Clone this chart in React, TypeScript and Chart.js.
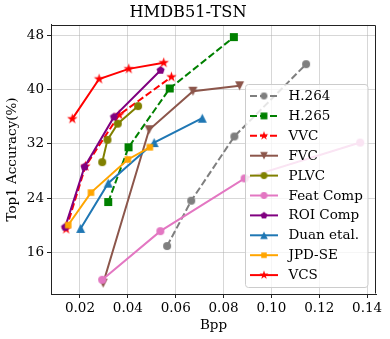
import React, { useEffect, useRef } from 'react';
import { Chart, registerables } from 'chart.js';

Chart.register(...registerables);

const chartTitle = 'HMDB51-TSN';
const xLabel = 'Bpp';
const yLabel = 'Top1 Accuracy(%)';
const xTicks = [0.02, 0.04, 0.06, 0.08, 0.1, 0.12, 0.14];
const yTicks = [16, 24, 32, 40, 48];

const seriesNames = ['H.264', 'H.265', 'VVC', 'FVC', 'PLVC', 'Feat Comp', 'ROI Comp', 'Duan etal.', 'JPD-SE', 'VCS'];

const h264X = [0.0564, 0.0665, 0.0845, 0.1145];
const h264Y = [16.9, 23.6, 33.1, 43.8];
const h265X = [0.0318, 0.0403, 0.0575, 0.0843];
const h265Y = [23.4, 31.5, 40.2, 47.8];
const vvcX = [0.0142, 0.0223, 0.0364, 0.0582];
const vvcY = [19.4, 28.7, 36.3, 41.9];
const fvcX = [0.0297, 0.0489, 0.0672, 0.0867];
const fvcY = [11.4, 34.1, 39.8, 40.6];
const plvcX = [0.0293, 0.0315, 0.0358, 0.0443];
const plvcY = [29.3, 32.6, 35.0, 37.6];
const featX = [0.0293, 0.0536, 0.0888, 0.1371];
const featY = [11.9, 19.1, 26.9, 32.2];
const roiX = [0.0138, 0.0219, 0.0342, 0.0537];
const roiY = [19.7, 28.6, 36.0, 42.9];
const duanX = [0.0203, 0.0318, 0.051, 0.0711];
const duanY = [19.5, 26.2, 32.2, 35.8];
const jpdX = [0.0151, 0.0246, 0.04, 0.0492];
const jpdY = [20.0, 24.8, 29.7, 31.5];
const vcsX = [0.0168, 0.028, 0.0404, 0.055];
const vcsY = [35.7, 41.6, 43.1, 44.0];

const allX = [h264X, h265X, vvcX, fvcX, plvcX, featX, roiX, duanX, jpdX, vcsX];
const allY = [h264Y, h265Y, vvcY, fvcY, plvcY, featY, roiY, duanY, jpdY, vcsY];

const styles = [
  { color: '#7f7f7f', dash: true, marker: 'circle', size: 8 },
  { color: '#008000', dash: true, marker: 'square', size: 8 },
  { color: '#ff0000', dash: true, marker: 'star', size: 11 },
  { color: '#8c564b', dash: false, marker: 'triDown', size: 9 },
  { color: '#808000', dash: false, marker: 'circle', size: 8 },
  { color: '#e377c2', dash: false, marker: 'circle', size: 8 },
  { color: '#800080', dash: false, marker: 'pentagon', size: 8.5 },
  { color: '#1f77b4', dash: false, marker: 'triUp', size: 9 },
  { color: '#ffa500', dash: false, marker: 'square', size: 6.5 },
  { color: '#ff0000', dash: false, marker: 'star', size: 11 },
];

const FONT = '"DejaVu Serif", serif';

function makeMarker(shape: string, color: string, size: number): HTMLCanvasElement {
  const s = Math.ceil(size + 4);
  const c = document.createElement('canvas');
  c.width = s;
  c.height = s;
  const ctx = c.getContext('2d') as CanvasRenderingContext2D;
  ctx.translate(s / 2, s / 2);
  ctx.fillStyle = color;
  ctx.beginPath();
  const r = size / 2;
  if (shape === 'circle') {
    ctx.arc(0, 0, r, 0, Math.PI * 2);
  } else if (shape === 'square') {
    ctx.rect(-r, -r, 2 * r, 2 * r);
  } else if (shape === 'triUp') {
    ctx.moveTo(0, -r);
    ctx.lineTo(r, r);
    ctx.lineTo(-r, r);
    ctx.closePath();
  } else if (shape === 'triDown') {
    ctx.moveTo(0, r);
    ctx.lineTo(r, -r);
    ctx.lineTo(-r, -r);
    ctx.closePath();
  } else if (shape === 'star') {
    const inner = r * 0.381966;
    for (let k = 0; k < 10; k++) {
      const rad = k % 2 === 0 ? r : inner;
      const a = -Math.PI / 2 + (k * Math.PI) / 5;
      const px = rad * Math.cos(a);
      const py = rad * Math.sin(a);
      if (k === 0) ctx.moveTo(px, py);
      else ctx.lineTo(px, py);
    }
    ctx.closePath();
  } else if (shape === 'pentagon') {
    for (let k = 0; k < 5; k++) {
      const a = -Math.PI / 2 + (k * 2 * Math.PI) / 5;
      const px = r * Math.cos(a);
      const py = r * Math.sin(a);
      if (k === 0) ctx.moveTo(px, py);
      else ctx.lineTo(px, py);
    }
    ctx.closePath();
  }
  ctx.fill();
  return c;
}

export default function App() {
  const ref = useRef<HTMLCanvasElement | null>(null);

  useEffect(() => {
    document.body.style.margin = '0';
    const canvas = ref.current;
    if (!canvas) return;

    const markers = styles.map((s) => makeMarker(s.marker, s.color, s.size));
    const legendMarkers = styles.map((s) => makeMarker(s.marker, s.color, s.size * 0.85));
    const dashPattern = [7, 3];

    const datasets = seriesNames.map((name, i) => ({
      label: name,
      data: allX[i].map((x, j) => ({ x, y: allY[i][j] })),
      borderColor: styles[i].color,
      backgroundColor: styles[i].color,
      borderWidth: 2,
      borderDash: styles[i].dash ? dashPattern : [],
      pointStyle: markers[i],
      pointRadius: 4,
      pointHoverRadius: 4,
      showLine: true,
      fill: false,
      tension: 0,
      order: 20 - i,
    }));

    const legendPlugin = {
      id: 'customLegend',
      afterDatasetsDraw(chart: any) {
        const ctx = chart.ctx as CanvasRenderingContext2D;
        ctx.save();
        const x0 = 245.5, y0 = 84.5, w = 122.5, h = 203, rr = 3;
        ctx.beginPath();
        ctx.moveTo(x0 + rr, y0);
        ctx.lineTo(x0 + w - rr, y0);
        ctx.arcTo(x0 + w, y0, x0 + w, y0 + rr, rr);
        ctx.lineTo(x0 + w, y0 + h - rr);
        ctx.arcTo(x0 + w, y0 + h, x0 + w - rr, y0 + h, rr);
        ctx.lineTo(x0 + rr, y0 + h);
        ctx.arcTo(x0, y0 + h, x0, y0 + h - rr, rr);
        ctx.lineTo(x0, y0 + rr);
        ctx.arcTo(x0, y0, x0 + rr, y0, rr);
        ctx.closePath();
        ctx.fillStyle = 'rgba(255,255,255,0.8)';
        ctx.fill();
        ctx.strokeStyle = '#cccccc';
        ctx.lineWidth = 1;
        ctx.stroke();

        chart.data.datasets.forEach((ds: any, i: number) => {
          const cy = 96 + i * 19.9;
          ctx.beginPath();
          ctx.setLineDash(ds.borderDash || []);
          ctx.strokeStyle = ds.borderColor;
          ctx.lineWidth = 2;
          ctx.moveTo(250, cy);
          ctx.lineTo(278, cy);
          ctx.stroke();
          ctx.setLineDash([]);
          const m = legendMarkers[i];
          ctx.drawImage(m, 264 - m.width / 2, cy - m.height / 2);
          ctx.fillStyle = '#000';
          ctx.font = `13.5px ${FONT}`;
          ctx.textAlign = 'left';
          ctx.textBaseline = 'middle';
          ctx.fillText(ds.label, 288.5, cy + 0.5);
        });
        ctx.restore();
      },
      afterDraw(chart: any) {
        const ctx = chart.ctx as CanvasRenderingContext2D;
        const a = chart.chartArea;
        ctx.save();
        ctx.strokeStyle = '#222';
        ctx.lineWidth = 1;
        ctx.beginPath();
        ctx.moveTo(Math.round(a.left) + 0.5, Math.round(a.top) + 0.5);
        ctx.lineTo(Math.round(a.right) - 0.5, Math.round(a.top) + 0.5);
        ctx.lineTo(Math.round(a.right) - 0.5, Math.round(a.bottom) - 0.5);
        ctx.stroke();
        ctx.restore();
      },
    };

    const tickFont = { family: FONT, size: 13.5 };

    const chart = new Chart(canvas, {
      type: 'scatter',
      data: { datasets: datasets as any },
      options: {
        responsive: false,
        animation: false,
        events: [],
        layout: { padding: { left: 0, right: 14, top: 0, bottom: 0 } },
        plugins: {
          legend: { display: false },
          tooltip: { enabled: false },
          title: {
            display: true,
            text: chartTitle,
            color: '#000',
            font: { family: FONT, size: 16.2, weight: 'normal' },
            padding: { top: 3.5, bottom: 2 },
          },
        },
        scales: {
          x: {
            type: 'linear',
            min: 0.0079,
            max: 0.1437,
            afterBuildTicks: (s: any) => {
              s.ticks = xTicks.map((v) => ({ value: v }));
            },
            afterFit: (s: any) => {
              s.height = 45;
            },
            ticks: {
              color: '#000',
              font: tickFont,
              padding: 2,
              maxRotation: 0,
              autoSkip: false,
              callback: (v: any) => Number(v).toFixed(2),
            },
            grid: {
              color: 'rgba(176,176,176,0.5)',
              tickColor: '#222',
              tickLength: 4,
              lineWidth: 1,
            },
            border: { display: true, color: '#222', width: 1 },
            title: {
              display: true,
              text: xLabel,
              color: '#000',
              font: tickFont,
              padding: { top: 0, bottom: 5 },
            },
          },
          y: {
            type: 'linear',
            min: 9.8,
            max: 49.6,
            afterBuildTicks: (s: any) => {
              s.ticks = yTicks.map((v) => ({ value: v }));
            },
            afterFit: (s: any) => {
              s.width = 51;
            },
            ticks: {
              color: '#000',
              font: tickFont,
              padding: 3,
              autoSkip: false,
              callback: (v: any) => String(v),
            },
            grid: {
              color: 'rgba(176,176,176,0.5)',
              tickColor: '#222',
              tickLength: 4,
              lineWidth: 1,
            },
            border: { display: true, color: '#222', width: 1 },
            title: {
              display: true,
              text: yLabel,
              color: '#000',
              font: tickFont,
              padding: { top: 4.4, bottom: 0 },
            },
          },
        },
      },
      plugins: [legendPlugin],
    });

    return () => {
      chart.destroy();
    };
  }, []);

  return (
    <div style={{ position: 'fixed', left: 0, top: 0, width: 390, height: 339, background: '#fff' }}>
      <canvas ref={ref} width={390} height={339} style={{ display: 'block', width: 390, height: 339 }} />
    </div>
  );
}
